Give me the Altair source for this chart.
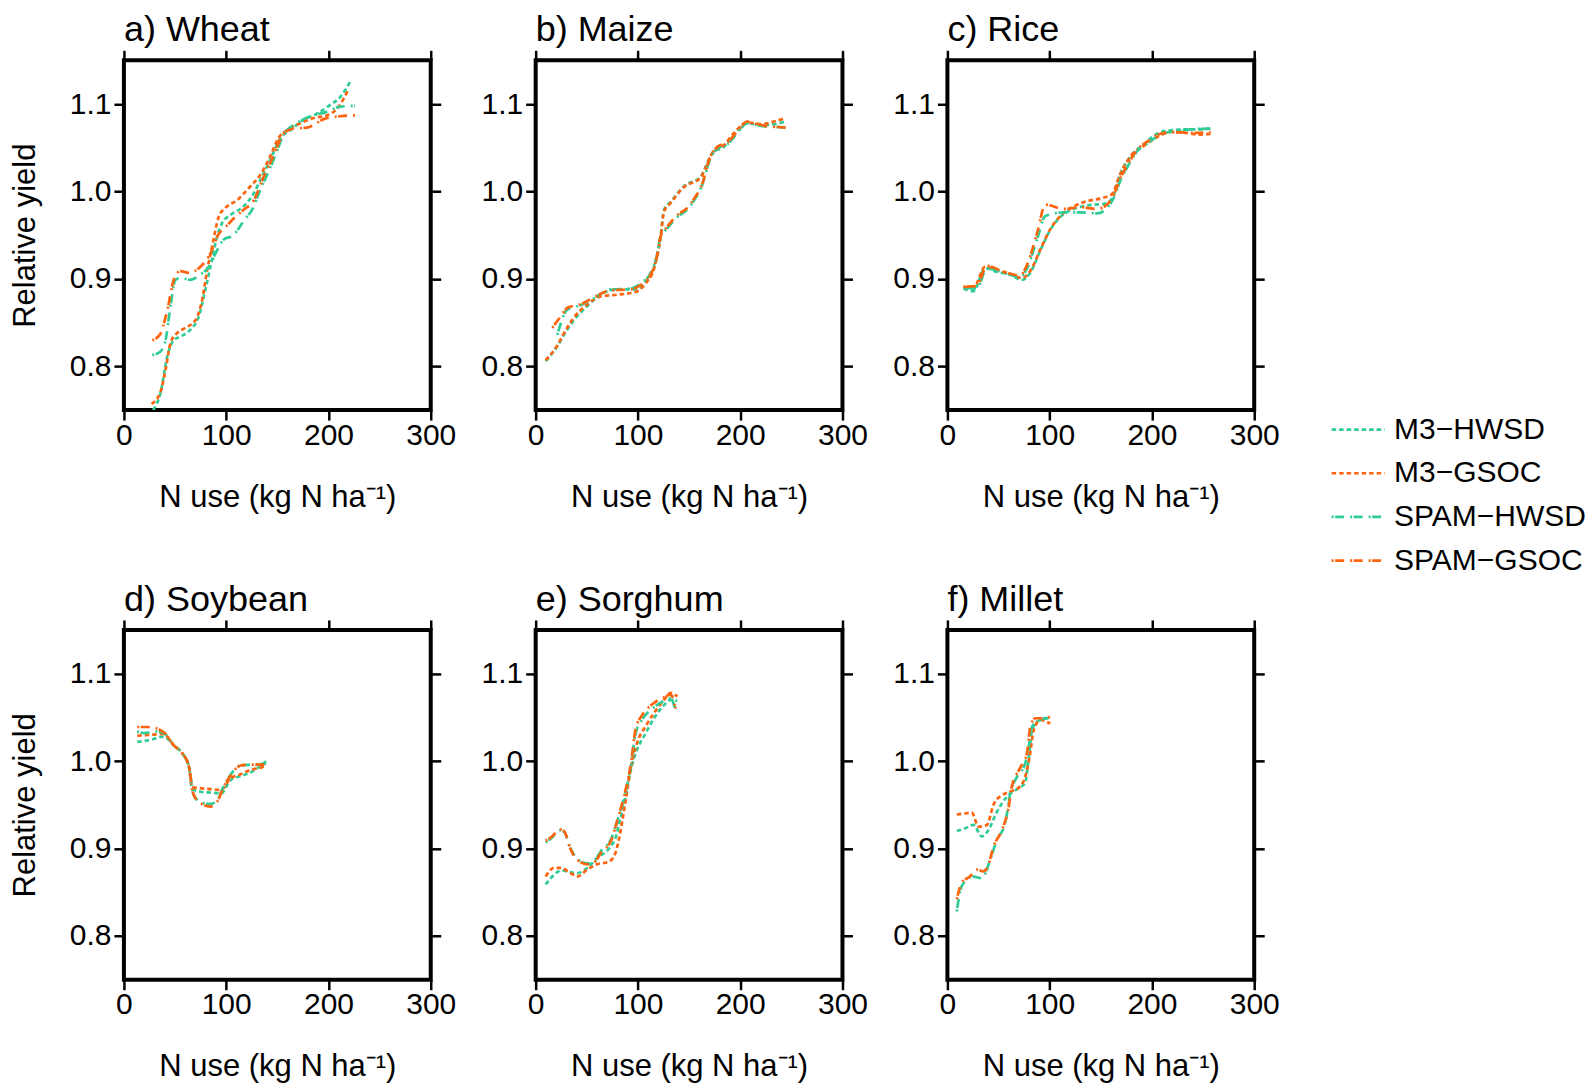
import altair as alt
import pandas as pd

FONT = "Liberation Sans"
SERIES = ["M3−HWSD", "M3−GSOC", "SPAM−HWSD", "SPAM−GSOC"]
COLORS = ["#2fcc97", "#ff640f", "#2fcc97", "#ff640f"]
DASHES = [[4.5, 3], [4.5, 3], [2, 1.5, 9, 6], [2, 1.5, 9, 6]]
TITLES = ["a) Wheat", "b) Maize", "c) Rice", "d) Soybean", "e) Sorghum", "f) Millet"]
X_TICKS = [0, 100, 200, 300]
Y_TICKS = [0.8, 0.9, 1.0, 1.1]

# ---------------- Wheat ----------------
WHEAT_M3_HWSD_X = [28.6, 35.8, 42.3, 48.8, 55.3, 65, 73.2, 79.7, 84.6, 91, 96, 104, 117, 127, 135, 143, 153, 162.7, 175.7, 188.7, 201.7, 211.5, 221]
WHEAT_M3_HWSD_Y = [0.750, 0.770, 0.811, 0.830, 0.834, 0.842, 0.857, 0.888, 0.914, 0.948, 0.964, 0.973, 0.983, 0.998, 1.017, 1.036, 1.061, 1.070, 1.082, 1.089, 1.099, 1.108, 1.125]
WHEAT_M3_GSOC_X = [27, 35.8, 40.7, 45.6, 52, 60, 70, 76.5, 81.4, 86.2, 92.7, 99, 110.6, 123.7, 133.4, 143, 151, 159.4, 172.5, 185.5, 198.5, 210, 219.6]
WHEAT_M3_GSOC_Y = [0.757, 0.771, 0.796, 0.827, 0.838, 0.844, 0.853, 0.876, 0.910, 0.937, 0.971, 0.981, 0.990, 1.006, 1.019, 1.040, 1.061, 1.070, 1.078, 1.084, 1.087, 1.097, 1.117]
WHEAT_SPAM_HWSD_X = [27.7, 35.8, 40.7, 45.6, 50.4, 55.3, 65, 74.8, 83, 89.5, 97.6, 107, 117, 127, 132, 140, 150, 156, 169, 182, 198.5, 211.5, 226]
WHEAT_SPAM_HWSD_Y = [0.813, 0.817, 0.830, 0.869, 0.899, 0.901, 0.899, 0.905, 0.914, 0.929, 0.945, 0.950, 0.966, 0.983, 0.998, 1.019, 1.047, 1.065, 1.078, 1.086, 1.091, 1.097, 1.098]
WHEAT_SPAM_GSOC_X = [27.7, 35, 42, 48.8, 55.3, 63.5, 74.8, 84.6, 92, 100, 108, 117, 127, 136.7, 146, 156, 166, 179, 196, 211.5, 226]
WHEAT_SPAM_GSOC_Y = [0.830, 0.836, 0.862, 0.899, 0.909, 0.907, 0.914, 0.929, 0.950, 0.960, 0.970, 0.979, 0.990, 1.017, 1.040, 1.066, 1.072, 1.073, 1.083, 1.086, 1.087]

# ---------------- Maize ----------------
MAIZE_M3_X = [9.8, 21.2, 27.7, 37.5, 50.5, 63.6, 80, 97.8, 107.6, 115.8, 122, 125.5, 132, 145, 161.4, 166, 172.8, 184, 194, 207, 220, 233, 244.6]
MAIZE_M3_HWSD_Y = [0.806, 0.823, 0.836, 0.853, 0.869, 0.882, 0.888, 0.888, 0.897, 0.914, 0.948, 0.979, 0.988, 1.006, 1.017, 1.028, 1.044, 1.051, 1.065, 1.078, 1.076, 1.077, 1.080]
MAIZE_M3_GSOC_Y = [0.807, 0.824, 0.838, 0.856, 0.871, 0.880, 0.882, 0.885, 0.895, 0.912, 0.946, 0.977, 0.987, 1.005, 1.016, 1.027, 1.044, 1.053, 1.067, 1.079, 1.077, 1.080, 1.084]
MAIZE_SPAM_HWSD_X = [21.2, 31, 44, 57, 73.4, 93, 102.7, 112.5, 119, 122, 128.8, 138.6, 148, 155, 163, 169.6, 177.7, 187.5, 197.3, 207, 220, 233, 244.6]
MAIZE_SPAM_HWSD_Y = [0.836, 0.865, 0.870, 0.878, 0.888, 0.889, 0.895, 0.907, 0.929, 0.948, 0.958, 0.971, 0.979, 0.990, 1.008, 1.034, 1.049, 1.054, 1.067, 1.078, 1.075, 1.074, 1.073]
MAIZE_SPAM_GSOC_X = [16.3, 25, 31, 44, 57, 73.4, 93, 102.7, 112.5, 119, 122, 128.8, 138.6, 148, 155, 163, 169.6, 177.7, 187.5, 197.3, 207, 220, 233, 244.6]
MAIZE_SPAM_GSOC_Y = [0.844, 0.858, 0.867, 0.871, 0.879, 0.887, 0.888, 0.893, 0.905, 0.928, 0.948, 0.960, 0.973, 0.981, 0.992, 1.009, 1.036, 1.051, 1.056, 1.069, 1.080, 1.076, 1.074, 1.073]

# ---------------- Rice ----------------
RICE_M3_X = [15.7, 25.5, 37, 48.4, 61.4, 73, 81, 91, 100.6, 110.5, 123.5, 136.6, 153, 161, 169, 179, 192, 205, 218, 234.6, 244.4, 257.5]
RICE_M3_HWSD_Y = [0.889, 0.886, 0.912, 0.908, 0.905, 0.899, 0.907, 0.933, 0.956, 0.971, 0.980, 0.984, 0.986, 0.992, 1.020, 1.040, 1.054, 1.066, 1.070, 1.071, 1.071, 1.072]
RICE_M3_GSOC_Y = [0.891, 0.890, 0.914, 0.910, 0.906, 0.901, 0.909, 0.934, 0.957, 0.972, 0.983, 0.989, 0.993, 0.997, 1.020, 1.040, 1.052, 1.062, 1.068, 1.067, 1.065, 1.066]
RICE_SPAM_X = [15.7, 28.8, 38.6, 55, 71, 77.8, 87.6, 95.8, 113.7, 130, 146.4, 156, 162.7, 169, 176, 185.6, 195.4, 208.5, 221.6, 238, 257.5]
RICE_SPAM_HWSD_Y = [0.890, 0.889, 0.912, 0.907, 0.902, 0.912, 0.945, 0.972, 0.976, 0.976, 0.975, 0.981, 0.993, 1.012, 1.028, 1.046, 1.055, 1.065, 1.069, 1.071, 1.072]
RICE_SPAM_GSOC_Y = [0.891, 0.892, 0.915, 0.908, 0.904, 0.916, 0.952, 0.985, 0.980, 0.982, 0.980, 0.985, 0.996, 1.015, 1.030, 1.048, 1.057, 1.066, 1.068, 1.067, 1.068]

# ---------------- Soybean ----------------
SOY_M3_X = [13, 25, 39, 48.8, 57, 63.5, 66.7, 75, 85, 95, 104, 114, 124, 135, 139]
SOY_M3_HWSD_Y = [1.022, 1.024, 1.028, 1.018, 1.009, 0.994, 0.968, 0.965, 0.964, 0.963, 0.978, 0.983, 0.987, 0.996, 1.000]
SOY_M3_GSOC_Y = [1.029, 1.030, 1.031, 1.018, 1.009, 0.994, 0.970, 0.969, 0.968, 0.967, 0.980, 0.985, 0.990, 0.993, 0.995]
SOY_SPAM_HWSD_X = [13, 20, 30, 39, 48.8, 57, 63.5, 68, 75, 84.6, 91, 97, 104, 114, 124, 139]
SOY_SPAM_HWSD_Y = [1.034, 1.032, 1.034, 1.032, 1.018, 1.009, 0.994, 0.962, 0.953, 0.951, 0.955, 0.970, 0.984, 0.995, 0.996, 0.997]
SOY_SPAM_GSOC_X = [13, 25, 39, 48.8, 57, 63.5, 68, 75, 84.6, 91, 97, 104, 114, 124, 139]
SOY_SPAM_GSOC_Y = [1.039, 1.039, 1.033, 1.018, 1.009, 0.994, 0.962, 0.952, 0.948, 0.953, 0.969, 0.983, 0.995, 0.996, 0.996]

# ---------------- Sorghum ----------------
SORG_SPAM_X = [9.8, 16.3, 22.8, 27.7, 34.2, 40.8, 50.5, 57, 65, 73.4, 80, 86.4, 93, 97.8, 104.4, 114, 125.5, 132, 137]
SORG_SPAM_HWSD_Y = [0.907, 0.913, 0.921, 0.919, 0.900, 0.888, 0.883, 0.886, 0.899, 0.910, 0.932, 0.958, 0.993, 1.032, 1.048, 1.060, 1.069, 1.072, 1.056]
SORG_SPAM_GSOC_Y = [0.909, 0.914, 0.922, 0.920, 0.899, 0.887, 0.882, 0.884, 0.897, 0.908, 0.933, 0.960, 0.996, 1.037, 1.053, 1.065, 1.073, 1.076, 1.060]
SORG_M3_X = [9.8, 18, 24.5, 34, 40.8, 50.5, 60, 71.7, 78, 83, 88, 93, 99.5, 107.6, 115.8, 125.5, 132, 138.6]
SORG_M3_HWSD_Y = [0.859, 0.870, 0.875, 0.873, 0.872, 0.878, 0.889, 0.900, 0.912, 0.935, 0.960, 0.990, 1.014, 1.032, 1.049, 1.064, 1.070, 1.069]
SORG_M3_GSOC_Y = [0.868, 0.878, 0.878, 0.872, 0.868, 0.876, 0.882, 0.885, 0.895, 0.920, 0.955, 0.992, 1.022, 1.040, 1.055, 1.070, 1.078, 1.074]

# ---------------- Millet ----------------
MILLET_M3_HWSD_X = [9.2, 17, 25.5, 33.7, 40, 48.4, 58, 69.6, 76, 79.4, 82.7, 87.6, 99]
MILLET_M3_HWSD_Y = [0.920, 0.923, 0.927, 0.914, 0.921, 0.942, 0.959, 0.969, 0.975, 1.002, 1.035, 1.045, 1.050]
MILLET_M3_GSOC_X = [9.2, 16, 23.9, 30.4, 38.6, 45, 53.3, 61.4, 71, 76, 81, 84.3, 91, 100.6]
MILLET_M3_GSOC_Y = [0.939, 0.940, 0.941, 0.925, 0.927, 0.950, 0.961, 0.965, 0.971, 0.982, 1.009, 1.035, 1.047, 1.043]
MILLET_SPAM_HWSD_X = [9.2, 14, 25.5, 33.7, 41.8, 48.4, 56.5, 61.4, 68, 76, 79.4, 82.7, 91, 99]
MILLET_SPAM_HWSD_Y = [0.828, 0.857, 0.868, 0.866, 0.887, 0.910, 0.929, 0.963, 0.982, 0.997, 1.016, 1.039, 1.047, 1.049]
MILLET_SPAM_GSOC_X = [9.2, 14, 22, 28.8, 35, 40, 45, 53.3, 60, 63, 71, 77.8, 81, 86, 95.7, 100.6]
MILLET_SPAM_GSOC_Y = [0.842, 0.861, 0.868, 0.876, 0.874, 0.881, 0.902, 0.921, 0.948, 0.971, 0.992, 1.009, 1.039, 1.049, 1.049, 1.051]

PANEL_DATA = [
    [(WHEAT_M3_HWSD_X, WHEAT_M3_HWSD_Y), (WHEAT_M3_GSOC_X, WHEAT_M3_GSOC_Y),
     (WHEAT_SPAM_HWSD_X, WHEAT_SPAM_HWSD_Y), (WHEAT_SPAM_GSOC_X, WHEAT_SPAM_GSOC_Y)],
    [(MAIZE_M3_X, MAIZE_M3_HWSD_Y), (MAIZE_M3_X, MAIZE_M3_GSOC_Y),
     (MAIZE_SPAM_HWSD_X, MAIZE_SPAM_HWSD_Y), (MAIZE_SPAM_GSOC_X, MAIZE_SPAM_GSOC_Y)],
    [(RICE_M3_X, RICE_M3_HWSD_Y), (RICE_M3_X, RICE_M3_GSOC_Y),
     (RICE_SPAM_X, RICE_SPAM_HWSD_Y), (RICE_SPAM_X, RICE_SPAM_GSOC_Y)],
    [(SOY_M3_X, SOY_M3_HWSD_Y), (SOY_M3_X, SOY_M3_GSOC_Y),
     (SOY_SPAM_HWSD_X, SOY_SPAM_HWSD_Y), (SOY_SPAM_GSOC_X, SOY_SPAM_GSOC_Y)],
    [(SORG_M3_X, SORG_M3_HWSD_Y), (SORG_M3_X, SORG_M3_GSOC_Y),
     (SORG_SPAM_X, SORG_SPAM_HWSD_Y), (SORG_SPAM_X, SORG_SPAM_GSOC_Y)],
    [(MILLET_M3_HWSD_X, MILLET_M3_HWSD_Y), (MILLET_M3_GSOC_X, MILLET_M3_GSOC_Y),
     (MILLET_SPAM_HWSD_X, MILLET_SPAM_HWSD_Y), (MILLET_SPAM_GSOC_X, MILLET_SPAM_GSOC_Y)],
]

PW, PH = 307, 350

legend = alt.Legend(
    orient="none", legendX=1220, legendY=354.5, title=None,
    symbolType="M-2,0H2", symbolSize=702, symbolStrokeWidth=2.7,
    labelFont=FONT, labelFontSize=30, labelColor="black", labelOffset=21,
    labelLimit=400, rowPadding=13.7,
)


def make_panel(idx):
    rows = []
    for name, (xs, ys) in zip(SERIES, PANEL_DATA[idx]):
        for xv, yv in zip(xs, ys):
            rows.append({"series": name, "x": xv, "y": yv})
    df = pd.DataFrame(rows)
    xscale = alt.Scale(domain=[0, 300], nice=False, zero=False)
    yscale = alt.Scale(domain=[0.75, 1.15], nice=False, zero=False)
    yaxis_kw = dict(orient="left", values=Y_TICKS, format=".1f", labelPadding=3)
    if idx % 3 == 0:
        yaxis_kw.update(title="Relative yield", titleX=-89, titleY=PH / 2,
                        titleBaseline="alphabetic", titleAngle=270)
    else:
        yaxis_kw.update(title=None)
    lines = alt.Chart(df).mark_line(strokeWidth=2.7, interpolate="monotone", clip=True).encode(
        x=alt.X("x:Q", scale=xscale,
                axis=alt.Axis(orient="bottom", values=X_TICKS, title="N use (kg N ha⁻¹)",
                              titleY=96, titleBaseline="alphabetic", labelPadding=0)),
        y=alt.Y("y:Q", scale=yscale, axis=alt.Axis(**yaxis_kw)),
        color=alt.Color("series:N", scale=alt.Scale(domain=SERIES, range=COLORS), legend=legend),
        strokeDash=alt.StrokeDash("series:N", scale=alt.Scale(domain=SERIES, range=DASHES), legend=legend),
    )
    ticks_other = alt.Chart(df).mark_line(opacity=0).encode(
        x=alt.X("x:Q", scale=xscale,
                axis=alt.Axis(orient="top", values=X_TICKS, labels=False, title=None)),
        y=alt.Y("y:Q", scale=yscale,
                axis=alt.Axis(orient="right", values=Y_TICKS, labels=False, title=None)),
    )
    return alt.layer(lines, ticks_other).resolve_axis(x="independent", y="independent").properties(
        width=PW, height=PH,
        title=alt.TitleParams(TITLES[idx], anchor="start", frame="group", offset=0, dy=28,
                              baseline="alphabetic", font=FONT, fontSize=36,
                              fontWeight="normal", color="black"),
    )


panels = [make_panel(i) for i in range(6)]

chart = alt.concat(
    *panels, columns=3, spacing={"row": 220, "column": 105}, bounds="flush"
).properties(
    padding={"left": 0, "top": 1, "right": 0, "bottom": 0}
).configure_axis(
    grid=False, domain=False, tickColor="black", tickWidth=2.5, tickSize=10,
    labelFont=FONT, labelFontSize=30, labelColor="black", labelFlush=False,
    titleFont=FONT, titleFontSize=31, titleFontWeight="normal", titleColor="black",
).configure_view(stroke="black", strokeWidth=4)

chart.save("out.html", embed_options={"renderer": "svg", "actions": False})
